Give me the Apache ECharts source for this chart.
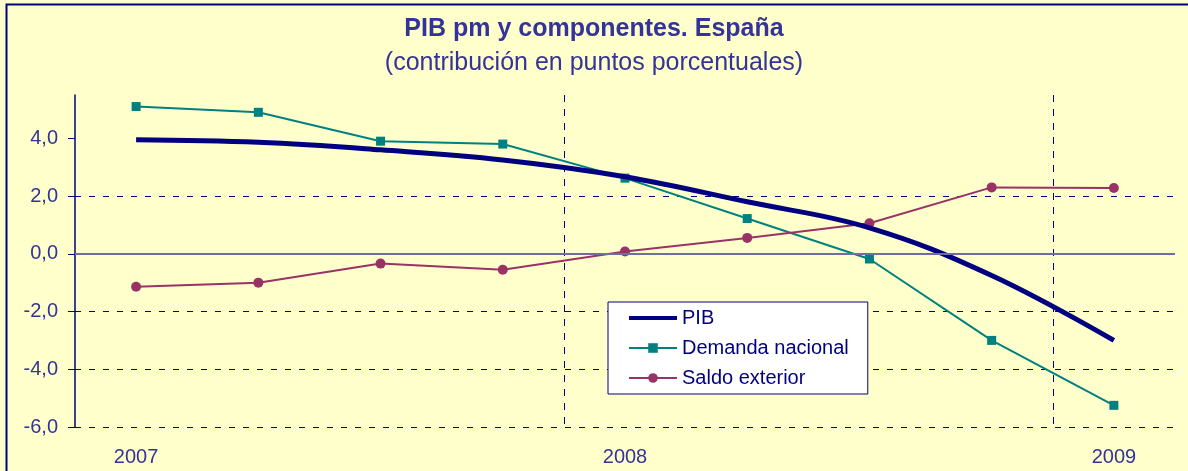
<!DOCTYPE html>
<html>
<head>
<meta charset="utf-8">
<script src="https://cdn.jsdelivr.net/npm/echarts@6/dist/echarts.min.js"></script>
<style>
  html, body { margin: 0; padding: 0; background: #ffffcc; }
  #chart { width: 1188px; height: 471px; }
</style>
</head>
<body>
<div id="chart"></div>
<script>
// trimestres 2007-I .. 2009-I
const quarters = ['2007-I', '2007-II', '2007-III', '2007-IV', '2008-I', '2008-II', '2008-III', '2008-IV', '2009-I'];
const yearLabels = ['2007', '', '', '', '2008', '', '', '', '2009'];
const pib = [3.95, 3.86, 3.6, 3.25, 2.67, 1.8, 0.9, -0.75, -3.0];
const demandaNacional = [5.1, 4.9, 3.9, 3.8, 2.62, 1.22, -0.18, -3.0, -5.25];
const saldoExterior = [-1.14, -1.0, -0.34, -0.55, 0.08, 0.55, 1.06, 2.3, 2.28];
const yTicks = [-6, -4, -2, 0, 2, 4];

const navy = '#000080';
const labelColor = '#333399';
const font = '"Liberation Sans", Arial, sans-serif';

const myChart = echarts.init(document.getElementById('chart'), null, { renderer: 'canvas' });

myChart.setOption({
  backgroundColor: '#ffffcc',
  animation: false,
  textStyle: { fontFamily: font },
  title: {
    text: 'PIB pm y componentes. España',
    subtext: '(contribución en puntos porcentuales)',
    left: 'center',
    top: 12,
    itemGap: 9,
    textStyle: { color: labelColor, fontSize: 25, fontWeight: 'bold', fontFamily: font },
    subtextStyle: { color: labelColor, fontSize: 25, fontFamily: font }
  },
  graphic: [
    {
      type: 'rect',
      silent: true,
      shape: { x: 6.5, y: 4.5, width: 1400, height: 600 },
      style: { fill: 'none', stroke: navy, lineWidth: 2 }
    }
  ],
  legend: {
    orient: 'vertical',
    left: 608,
    top: 302,
    backgroundColor: '#ffffff',
    borderColor: navy,
    borderWidth: 1,
    padding: [6, 19, 6, 20],
    itemWidth: 48,
    itemHeight: 12,
    itemGap: 10,
    textStyle: { color: navy, fontSize: 20, lineHeight: 20, fontFamily: font },
    data: [
      // thick line only, no marker
      { name: 'PIB', icon: 'path://M0,0 M0,4 L48,4 L48,8 L0,8 Z M48,12', itemStyle: { color: navy } },
      'Demanda nacional',
      'Saldo exterior'
    ]
  },
  grid: {
    left: 75,
    right: 13,
    top: 95,
    bottom: 44,
    outerBoundsMode: 'none'
  },
  xAxis: {
    type: 'category',
    boundaryGap: true,
    data: quarters,
    axisLine: { show: false },
    axisTick: { show: false },
    axisLabel: {
      interval: 0,
      margin: 20,
      color: labelColor,
      fontSize: 20,
      fontFamily: font,
      formatter: (v, i) => yearLabels[i]
    },
    splitLine: {
      show: true,
      showMaxLine: false,
      interval: (i) => i === 4 || i === 8,
      lineStyle: { color: navy, width: 1, type: [7, 7] }
    }
  },
  yAxis: {
    type: 'value',
    min: -6,
    max: 5.5,
    interval: 2,
    axisLine: { show: true, lineStyle: { color: navy, width: 1.5 } },
    axisTick: { show: true, inside: false, length: 7, customValues: yTicks, lineStyle: { color: navy } },
    axisLabel: {
      margin: 17,
      color: labelColor,
      fontSize: 20,
      fontFamily: font,
      customValues: yTicks,
      formatter: (v) => v.toFixed(1).replace('.', ',')
    },
    splitLine: {
      show: true,
      showMaxLine: false,
      lineStyle: { color: navy, width: 1, type: [6, 8] }
    }
  },
  series: [
    {
      name: 'PIB',
      type: 'line',
      data: pib,
      smooth: 0.4,
      symbol: 'none',
      z: 4,
      lineStyle: { color: navy, width: 5 },
      itemStyle: { color: navy },
      markLine: {
        silent: true,
        symbol: 'none',
        label: { show: false },
        lineStyle: { color: '#6e6ea2', width: 2, type: 'solid' },
        data: [{ yAxis: 0 }]
      }
    },
    {
      name: 'Demanda nacional',
      type: 'line',
      data: demandaNacional,
      symbol: 'rect',
      symbolSize: 9,
      z: 3,
      lineStyle: { color: '#008080', width: 2 },
      itemStyle: { color: '#008080' }
    },
    {
      name: 'Saldo exterior',
      type: 'line',
      data: saldoExterior,
      symbol: 'circle',
      symbolSize: 10,
      z: 3,
      lineStyle: { color: '#993366', width: 2 },
      itemStyle: { color: '#993366' }
    }
  ]
});
</script>
</body>
</html>
